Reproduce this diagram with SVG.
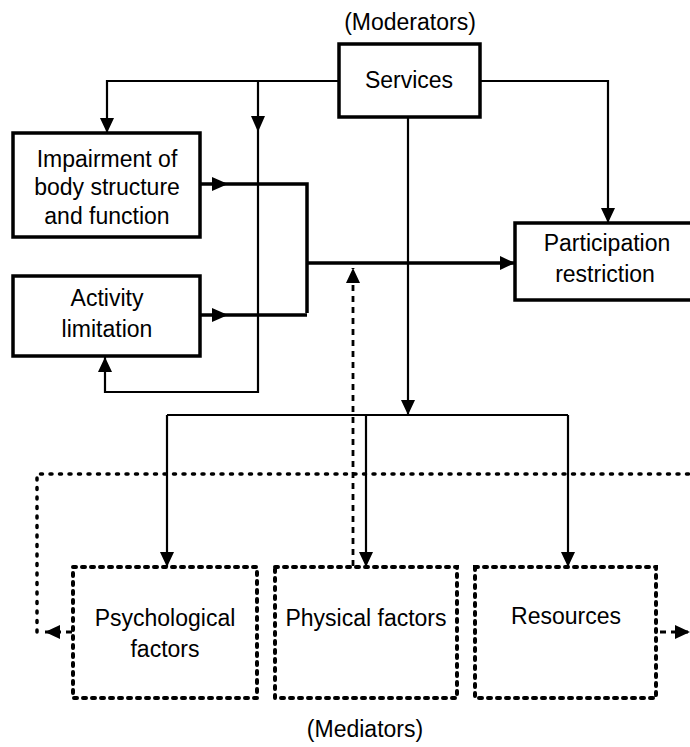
<svg xmlns="http://www.w3.org/2000/svg" width="690" height="747" viewBox="0 0 690 747">
<defs>
<marker id="ah" markerUnits="userSpaceOnUse" markerWidth="16" markerHeight="14" refX="15" refY="7" orient="auto">
<path d="M0,0 L15,7 L0,14 Z" fill="#000"/>
</marker>
<style>
.box{fill:#fff;stroke:#000;stroke-width:3.5}
.dbox{fill:none;stroke:#000;stroke-width:4;stroke-dasharray:3 6;stroke-linecap:round}
.ln{fill:none;stroke:#000;stroke-width:2.2}
.thk{fill:none;stroke:#000;stroke-width:3.5}
.dash{fill:none;stroke:#000;stroke-width:2.8;stroke-dasharray:6 5}
.dot{fill:none;stroke:#000;stroke-width:3.5;stroke-dasharray:2 7.5;stroke-linecap:round}
text{font-family:"Liberation Sans",Arial,sans-serif;font-size:23px;fill:#000;text-anchor:middle}
</style>
</defs>
<rect width="690" height="747" fill="#fff"/>
<g id="connectors">
<path class="ln" d="M339,81 H107 V133" marker-end="url(#ah)"/>
<path class="ln" d="M258,81 V392 H105 V357" marker-end="url(#ah)"/>
<polygon points="251,116 265,116 258,132"/>
<path class="thk" d="M200,184 H307 V313"/>
<polygon points="212,177 212,191 228,184"/>
<path class="thk" d="M200,315 H307"/>
<polygon points="212,308 212,322 228,315"/>
<path class="thk" d="M307,263 H515" marker-end="url(#ah)"/>
<path class="ln" d="M480,81 H608 V223" marker-end="url(#ah)"/>
<path class="ln" d="M408,117 V415" marker-end="url(#ah)"/>
<path class="ln" d="M167,415 H568"/>
<path class="ln" d="M167,415 V567" marker-end="url(#ah)"/>
<path class="ln" d="M366,415 V567" marker-end="url(#ah)"/>
<path class="ln" d="M568,415 V567" marker-end="url(#ah)"/>
<path class="dash" d="M353,566 V268" marker-end="url(#ah)"/>
<path class="dot" d="M37,632 V474 H690"/>
<path class="dash" d="M72,632 H45" marker-end="url(#ah)"/>
<path class="dash" d="M660,632 H690" marker-end="url(#ah)"/>
</g>
<text x="410" y="30">(Moderators)</text>
<g id="services">
<rect class="box" x="339" y="44" width="141" height="73"/>
<text x="409" y="88">Services</text>
</g>
<g id="impairment">
<rect class="box" x="13" y="133" width="187" height="104"/>
<text x="107" y="167">Impairment of</text>
<text x="107" y="195">body structure</text>
<text x="107" y="224">and function</text>
</g>
<g id="activity">
<rect class="box" x="13" y="276" width="187" height="80"/>
<text x="107" y="306">Activity</text>
<text x="107" y="337">limitation</text>
</g>
<g id="participation">
<rect class="box" x="515" y="223" width="185" height="77"/>
<text x="607" y="251">Participation</text>
<text x="605" y="282">restriction</text>
</g>
<g id="psychological">
<rect class="dbox" x="73" y="567" width="184" height="131"/>
<text x="165" y="626">Psychological</text>
<text x="165" y="657">factors</text>
</g>
<g id="physical">
<rect class="dbox" x="275" y="567" width="182" height="131"/>
<text x="366" y="626">Physical factors</text>
</g>
<g id="resources">
<rect class="dbox" x="475" y="567" width="181" height="131"/>
<text x="566" y="624">Resources</text>
</g>
<text x="365" y="737">(Mediators)</text>
</svg>
